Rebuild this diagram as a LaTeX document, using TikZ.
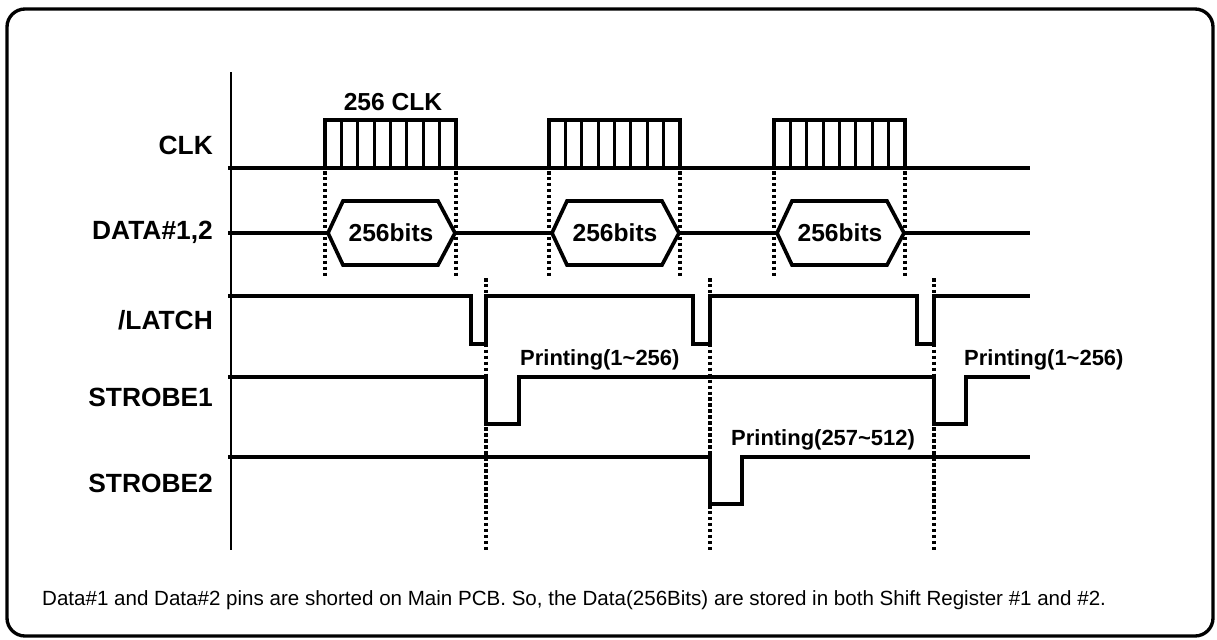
\documentclass[tikz,border=0pt]{standalone}
\usepackage{fontspec}
\setmainfont{Liberation Sans}
\usetikzlibrary{positioning}
\tikzset{
  wave/.style={line width=2.1pt, line join=miter},
  tick/.style={line width=1.7pt},
  guide/.style={line width=2pt, dash pattern=on 2pt off 1.4pt},
  rowlabel/.style={anchor=east, font=\fontsize{15}{17}\selectfont\bfseries},
  cell/.style={font=\fontsize{14}{16}\selectfont\bfseries},
  tag/.style={anchor=west, font=\fontsize{12.5}{14}\selectfont\bfseries},
  note/.style={anchor=west, font=\fontsize{11.7}{13}\selectfont}
}

\begin{document}
\begin{tikzpicture}[x=0.02cm,y=-0.02cm]
  \useasboundingbox (0,0) rectangle (1217,639);
  \draw[line width=1.9pt, rounded corners=0.36cm] (7,9) rectangle (1213,636);
  \draw[line width=1.5pt] (231,72) -- (231,550);

  \node[rowlabel] (clk) at (219,145) {CLK};
  \node[rowlabel] (data) at (219,232) {DATA\#1,2};
  \node[rowlabel] (latch) at (219,320) {/LATCH};
  \node[rowlabel] (stb1) at (219,397) {STROBE1};
  \node[rowlabel] (stb2) at (219,483) {STROBE2};

  \draw[wave] (228,168) -- (1030,168);
  \draw[wave] (228,233) -- (1030,233);
  \foreach \s [count=\i] in {325,549,774}{
    \draw[wave] (\s,168) -- (\s,120) -| ({\s+131},168);
    \foreach \k in {1,...,7}
      \draw[tick] ({\s+\k*16.375},120) -- ({\s+\k*16.375},168);
    \draw[wave, fill=white] ({\s+3},233) -- ({\s+18},201) -- ({\s+113},201)
      -- ({\s+130},233) -- ({\s+113},265) -- ({\s+18},265) -- cycle;
    \node[cell] (bits\i) at ({\s+66},233) {256bits};
    \draw[guide] (\s,171) -- (\s,278);
    \draw[guide] ({\s+131},171) -- ({\s+131},278);
  }
  \node[cell] (clkcount) at (393,102) {256 CLK};

  \draw[wave] (228,296) -- (471,296) -- (471,344) -- (486,344) -- (486,296)
    -- (693,296) -- (693,344) -- (710,344) -- (710,296)
    -- (917,296) -- (917,344) -- (934,344) -- (934,296) -- (1030,296);
  \draw[wave] (228,377) -- (486,377) -- (486,424) -- (519,424) -- (519,377)
    -- (934,377) -- (934,424) -- (966,424) -- (966,377) -- (1030,377);
  \draw[wave] (228,457) -- (710,457) -- (710,504) -- (742,504) -- (742,457)
    -- (1030,457);
  \foreach \x in {486,710,934}
    \draw[guide] (\x,278) -- (\x,550);

  \node[tag] (print1) at (514,360) {Printing(1\textasciitilde256)};
  \node[tag] (print2) at (725,440) {Printing(257\textasciitilde512)};
  \node[tag] (print3) at (958,360) {Printing(1\textasciitilde256)};

  \node[note] (remark) at (36,600) {Data\#1 and Data\#2 pins are shorted on Main PCB. So, the Data(256Bits) are stored in both Shift Register \#1 and \#2.};
\end{tikzpicture}
\end{document}
